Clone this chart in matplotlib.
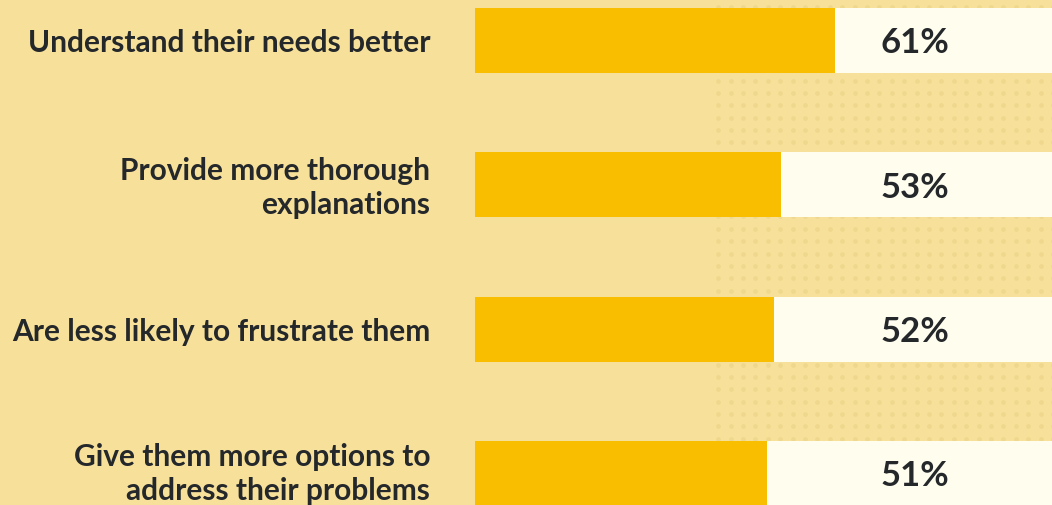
import matplotlib.pyplot as plt
import numpy as np

labels = ['Understand their needs better',
          'Provide more thorough\nexplanations',
          'Are less likely to frustrate them',
          'Give them more options to\naddress their problems']
values = [61, 53, 52, 51]

bg = '#F7E19A'
dot_col = '#EFD88E'
bar_col = '#F9BE00'
track_col = '#FFFDEE'
txt_col = '#25282B'

W, H = 1052, 505
fig = plt.figure(figsize=(W / 100, H / 100), dpi=100, facecolor=bg)

# dotted backdrop on the right side
bgax = fig.add_axes([0, 0, 1, 1])
bgax.set_xlim(0, W)
bgax.set_ylim(H, 0)
bgax.axis('off')
gx, gy = np.meshgrid(np.arange(718.3, W + 5, 12.4), np.arange(6.5, H + 5, 12.35))
bgax.scatter(gx.ravel(), gy.ravel(), s=12, color=dot_col, linewidths=0)

# bars
ax = fig.add_axes([475 / W, 0, 577 / W, 1])
ax.set_facecolor('none')
step = 144.3
ax.set_ylim((H - 40.5) / step, -40.5 / step)
ax.set_xlim(8, 8 + 577 / 6.8)
h = 65 / step
y = np.arange(len(values))
for i in y:
    ax.axhspan(i - h / 2, i + h / 2, color=track_col, lw=0, zorder=1)
ax.barh(y, values, height=h, color=bar_col, zorder=2)

tr = ax.get_yaxis_transform()
for i, v in enumerate(values):
    ax.text(0.763, i + 0.02, '%d%%' % v, transform=tr, ha='center', va='center',
            fontsize=25, fontfamily='Lato', fontweight='bold', color=txt_col, zorder=3)

# category labels, right aligned 45px left of the bars
for i, lab in enumerate(labels):
    yy = i + 0.005 if i == len(labels) - 1 else i + 0.02
    ax.text(-45 / 577, yy, lab, transform=tr, ha='right', va='center',
            fontsize=21.5, fontfamily='Lato', fontweight='bold',
            color=txt_col, linespacing=1.27)

ax.axis('off')

fig.savefig('out.png', dpi=100, facecolor=bg)
